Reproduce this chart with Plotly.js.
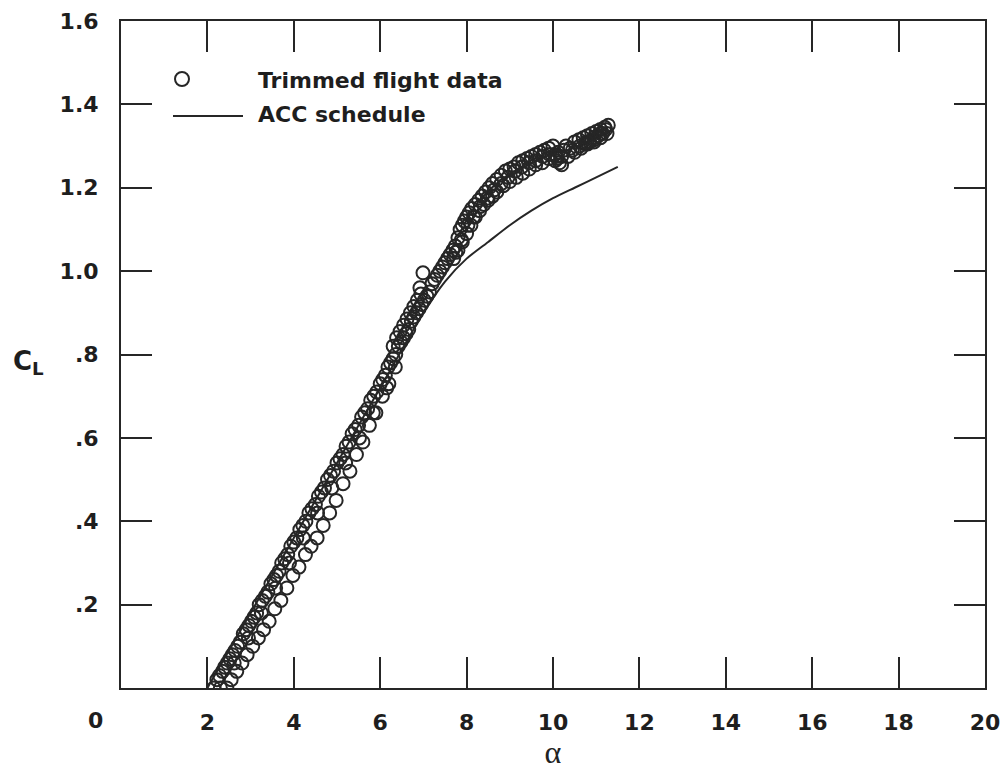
<!DOCTYPE html>
<html>
<head>
<meta charset="utf-8">
<script src="https://cdn.plot.ly/plotly-3.0.1.min.js"></script>
<style>html,body{margin:0;padding:0;background:#fff;}#chart{width:1008px;height:770px;}</style>
</head>
<body>
<div id="chart"></div>
<script>
// Trimmed flight data (angle of attack alpha, lift coefficient CL)
const flightAlpha = [
  // main dense track
  2.15,2.22,2.28,2.35,2.40,2.46,2.52,2.58,2.64,2.70,2.76,2.83,2.90,2.96,3.02,3.08,3.14,3.20,3.27,3.34,
  3.40,3.47,3.54,3.60,3.66,3.72,3.79,3.86,3.93,4.00,4.07,4.14,4.21,4.28,4.35,4.42,4.50,4.57,4.64,4.71,
  4.78,4.85,4.92,5.00,5.07,5.14,5.21,5.28,5.35,5.42,5.50,5.57,5.64,5.71,5.78,5.85,5.92,6.00,6.06,6.12,
  6.18,6.24,6.30,6.36,6.42,6.48,6.54,6.60,6.66,6.72,6.78,6.84,6.90,6.96,7.02,7.08,7.14,7.20,7.26,7.32,
  7.38,7.44,7.50,7.56,7.62,7.68,7.74,7.80,7.85,7.90,7.95,8.00,8.06,8.12,8.20,8.28,8.36,8.44,8.52,8.60,
  8.70,8.80,8.90,9.00,9.10,9.20,9.30,9.40,9.50,9.60,9.70,9.80,9.90,10.00,10.05,10.10,10.15,10.20,10.25,10.30,
  10.40,10.50,10.60,10.70,10.80,10.90,11.00,11.10,11.20,11.28,11.15,11.05,10.95,10.85,10.75,
  // lagging right track
  2.45,2.55,2.68,2.80,2.92,3.05,3.18,3.30,3.43,3.56,3.70,3.84,3.98,4.12,4.27,4.40,4.54,4.68,4.83,4.98,
  5.14,5.30,5.45,5.60,5.75,5.90,6.05,6.20,6.35,
  // in-between track, lower part
  2.30,2.62,2.95,3.25,3.58,3.90,4.22,4.55,4.88,5.20,5.52,5.84,6.15,
  // second row, upper part
  7.70,7.80,7.90,8.00,8.10,8.20,8.30,8.40,8.50,8.60,8.70,8.85,9.00,9.15,9.30,9.45,9.60,9.75,9.90,10.05,
  10.20,10.35,10.50,10.65,10.80,10.95,11.10,11.25,
  // middle row, upper part
  7.75,7.88,8.03,8.16,8.32,8.48,8.64,8.80,8.96,9.12,9.28,9.44,9.60,9.76,9.92,10.08,10.12,10.45,10.62,10.78,
  10.94,11.10,11.22,
  // extra row in dense region
  6.30,6.38,6.46,6.54,6.62,6.70,6.78,6.86,6.94,
  // outliers
  6.99,6.92
];
const flightCL = [
  0.00,0.02,0.03,0.04,0.05,0.06,0.07,0.08,0.09,0.10,0.11,0.13,0.14,0.15,0.16,0.17,0.18,0.20,0.21,0.22,
  0.23,0.25,0.26,0.27,0.28,0.30,0.31,0.32,0.34,0.35,0.36,0.38,0.39,0.40,0.42,0.43,0.44,0.46,0.47,0.48,
  0.50,0.51,0.52,0.54,0.55,0.56,0.58,0.59,0.61,0.62,0.63,0.65,0.66,0.67,0.69,0.70,0.71,0.73,0.74,0.75,
  0.77,0.78,0.79,0.80,0.82,0.83,0.84,0.85,0.86,0.88,0.89,0.90,0.91,0.92,0.93,0.94,0.95,0.97,0.98,0.99,
  1.00,1.01,1.02,1.03,1.04,1.05,1.06,1.08,1.10,1.11,1.12,1.13,1.14,1.15,1.16,1.17,1.18,1.19,1.20,1.21,
  1.22,1.23,1.24,1.245,1.25,1.26,1.265,1.27,1.275,1.28,1.285,1.29,1.295,1.30,1.28,1.27,1.26,1.275,1.29,1.30,
  1.295,1.31,1.315,1.32,1.325,1.33,1.335,1.34,1.345,1.35,1.33,1.325,1.315,1.31,1.305,
  0.00,0.02,0.04,0.06,0.08,0.10,0.12,0.14,0.16,0.19,0.21,0.24,0.27,0.29,0.32,0.34,0.36,0.39,0.42,0.45,
  0.49,0.52,0.56,0.59,0.63,0.66,0.70,0.73,0.77,
  0.00,0.06,0.12,0.18,0.24,0.30,0.36,0.42,0.48,0.54,0.60,0.66,0.72,
  1.03,1.05,1.07,1.09,1.11,1.13,1.145,1.16,1.17,1.18,1.19,1.205,1.215,1.225,1.235,1.245,1.255,1.26,1.27,1.265,
  1.255,1.275,1.285,1.295,1.305,1.31,1.32,1.33,
  1.045,1.075,1.11,1.13,1.155,1.175,1.195,1.21,1.225,1.24,1.25,1.26,1.265,1.275,1.28,1.275,1.285,1.29,1.30,1.31,
  1.32,1.33,1.34,
  0.82,0.84,0.855,0.87,0.885,0.90,0.915,0.93,0.945,
  0.996,0.96
];

// ACC schedule line
const accAlpha = [2.0, 3.0, 4.0, 5.0, 6.0, 7.0, 7.5, 8.0, 8.5, 9.0, 9.5, 10.0, 10.5, 11.0, 11.5];
const accCL    = [0.0, 0.18, 0.36, 0.54, 0.72, 0.90, 0.975, 1.03, 1.07, 1.11, 1.145, 1.175, 1.20, 1.225, 1.25];

// Tick labels
const xTickVals = [2, 4, 6, 8, 10, 12, 14, 16, 18, 20];
const xTickText = ['2', '4', '6', '8', '10', '12', '14', '16', '18', '20'];
const yTickVals = [0.2, 0.4, 0.6, 0.8, 1.0, 1.2, 1.4, 1.6];
const yTickText = ['.2', '.4', '.6', '.8', '1.0', '1.2', '1.4', '1.6'];

const legendNames = ['Trimmed flight data', 'ACC schedule'];

const ink = '#262626';
const tickFont = {family: 'DejaVu Sans', size: 22, color: '#1e1e1e', weight: 'bold'};

// plot area in pixels (for positioning legend/labels in paper coords)
const L = 121, R = 23, T = 21, B = 82, W = 1008, H = 770;
const pw = W - L - R, ph = H - T - B;
const px = v => (v - L) / pw;
const py = v => (H - B - v) / ph;

const traces = [
  {
    x: flightAlpha, y: flightCL, type: 'scatter', mode: 'markers', name: legendNames[0],
    marker: {symbol: 'circle-open', size: 13, color: ink, line: {width: 2, color: ink}},
    cliponaxis: true, showlegend: false
  },
  {
    x: accAlpha, y: accCL, type: 'scatter', mode: 'lines', name: legendNames[1],
    line: {color: ink, width: 2, shape: 'spline', smoothing: 0.6},
    showlegend: false
  }
];

const layout = {
  width: W, height: H,
  margin: {l: L, r: R, t: T, b: B, pad: 0},
  paper_bgcolor: '#fff', plot_bgcolor: '#fff',
  showlegend: false,
  xaxis: {
    range: [0, 20], showgrid: false, zeroline: false,
    showline: true, linecolor: ink, linewidth: 2, mirror: 'ticks',
    ticks: 'inside', ticklen: 31, tickwidth: 2, tickcolor: ink,
    tickmode: 'array', tickvals: xTickVals, ticktext: xTickText,
    tickfont: tickFont, ticklabelstandoff: 14,
    title: {text: 'α', font: {family: 'Liberation Serif', size: 32, color: '#222'}, standoff: 6}
  },
  yaxis: {
    range: [0, 1.6], showgrid: false, zeroline: false,
    showline: true, linecolor: ink, linewidth: 2, mirror: 'ticks',
    ticks: 'inside', ticklen: 31, tickwidth: 2, tickcolor: ink,
    tickmode: 'array', tickvals: yTickVals, ticktext: yTickText,
    tickfont: tickFont, ticklabelstandoff: 16
  },
  annotations: [
    {xref: 'paper', yref: 'paper', x: px(95), y: py(720), text: '0', showarrow: false,
     font: tickFont, xanchor: 'center', yanchor: 'middle'},
    {xref: 'paper', yref: 'paper', x: px(28), y: py(362), text: 'C<sub>L</sub>', showarrow: false,
     font: {family: 'DejaVu Sans', size: 26, color: '#1e1e1e', weight: 'bold'}, xanchor: 'center', yanchor: 'middle'},
    {xref: 'paper', yref: 'paper', x: px(256), y: py(80), text: legendNames[0], showarrow: false,
     font: tickFont, xanchor: 'left', yanchor: 'middle'},
    {xref: 'paper', yref: 'paper', x: px(256), y: py(114), text: legendNames[1], showarrow: false,
     font: tickFont, xanchor: 'left', yanchor: 'middle'}
  ],
  shapes: [
    {type: 'circle', xref: 'paper', yref: 'paper', xsizemode: 'pixel', ysizemode: 'pixel',
     xanchor: px(182), yanchor: py(79), x0: -7, x1: 7, y0: -7, y1: 7,
     line: {color: ink, width: 2}},
    {type: 'line', xref: 'paper', yref: 'paper', x0: px(173), x1: px(243), y0: py(116), y1: py(116),
     line: {color: ink, width: 2}}
  ]
};

Plotly.newPlot('chart', traces, layout, {staticPlot: true, displayModeBar: false});
</script>
</body>
</html>
